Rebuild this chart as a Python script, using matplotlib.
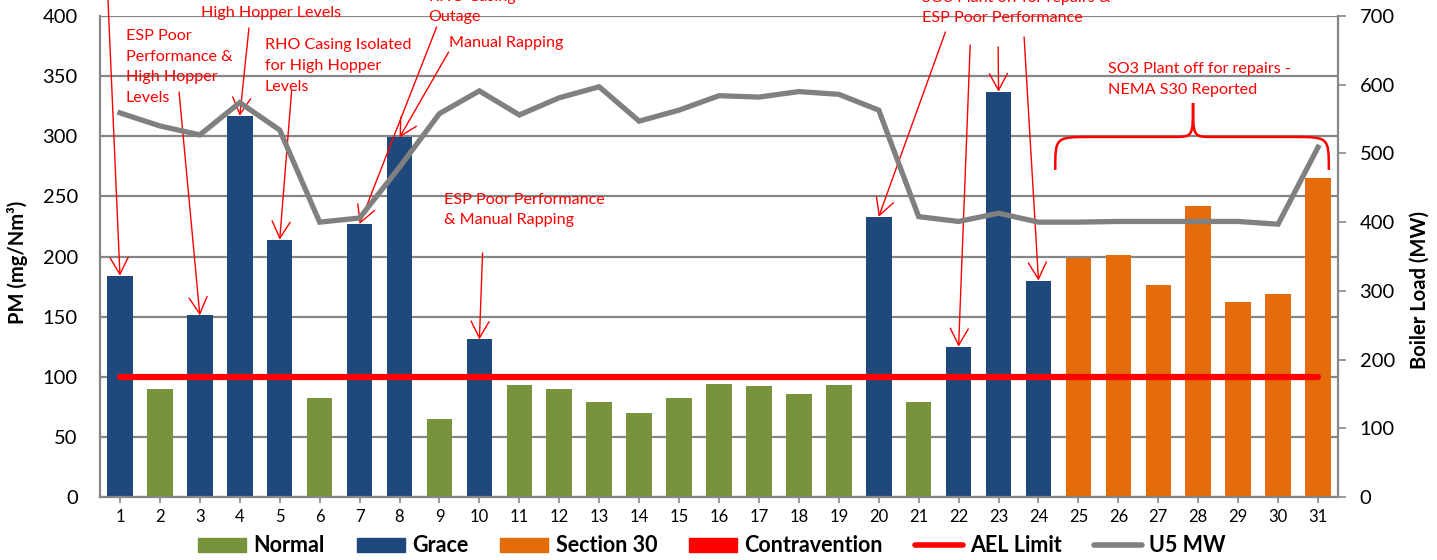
import matplotlib
matplotlib.use("Agg")
import matplotlib.pyplot as plt
from matplotlib.patches import Patch, PathPatch
from matplotlib.lines import Line2D
from matplotlib.path import Path

plt.rcParams['font.family'] = ['Lato', 'DejaVu Sans']

# daily PM results (mg/Nm3), compliance status and unit load (MW)
days = list(range(1, 32))
pm = [184, 90, 151, 317, 214, 82, 227, 299, 65, 131,
      93, 90, 79, 70, 82, 94, 92, 86, 93, 233,
      79, 125, 337, 180, 199, 201, 176, 242, 162, 169, 265]
status = (['Grace', 'Normal', 'Grace', 'Grace', 'Grace', 'Normal', 'Grace', 'Grace', 'Normal', 'Grace']
          + ['Normal'] * 9 + ['Grace', 'Normal', 'Grace', 'Grace', 'Grace']
          + ['Section 30'] * 7)
u5_mw = [559, 540, 527, 574, 534, 400, 406, 480, 558, 591,
         556, 581, 597, 547, 563, 584, 582, 590, 586, 563,
         408, 401, 413, 400, 400, 401, 401, 401, 401, 397, 509]
ael_limit = 100

colours = {'Normal': '#77933C', 'Grace': '#1F497D', 'Section 30': '#E46C0A',
           'Contravention': '#FF0000'}
grey = '#868686'
red = '#FF0000'

fig = plt.figure(figsize=(14.37, 5.6), dpi=100)
ax = fig.add_axes([100 / 1437, 63 / 560, 1238 / 1437, 481 / 560])

ax.bar(days, pm, width=0.64, color=[colours[s] for s in status], zorder=2)
ax.plot([days[0], days[-1]], [ael_limit, ael_limit], color=red, lw=4.5,
        solid_capstyle='round', zorder=3)

ax.set_xlim(0.5, 31.5)
ax.set_ylim(0, 400)
ax.set_yticks(range(0, 401, 50))
ax.set_xticks(days)
ax.yaxis.grid(True, color=grey, lw=1.6)
ax.set_axisbelow(True)
ax.tick_params(axis='y', length=0, pad=16, labelsize=14.5)
ax.tick_params(axis='x', length=4.5, color=grey, width=1.2, pad=4, labelsize=12)
ax.spines['top'].set_visible(False)
ax.spines['right'].set_visible(False)
for s in ('left', 'bottom'):
    ax.spines[s].set_color(grey)
    ax.spines[s].set_linewidth(1.6)

ax2 = ax.twinx()
ax2.plot(days, u5_mw, color='#808080', lw=3.8, solid_joinstyle='miter', zorder=4)
ax2.set_ylim(0, 700)
ax2.set_yticks(range(0, 701, 100))
ax2.tick_params(axis='y', length=5.5, color=grey, width=1.2, pad=10, labelsize=14.5)
for s in ('top', 'left', 'bottom'):
    ax2.spines[s].set_visible(False)
ax2.spines['right'].set_color(grey)
ax2.spines['right'].set_linewidth(1.6)

fig.text(18 / 1437, 1 - 262 / 560, 'PM (mg/Nm³)', rotation=90, ha='center', va='center',
         fontsize=14.5, fontweight='bold')
fig.text(1420 / 1437, 1 - 290 / 560, 'Boiler Load (MW)', rotation=90, ha='center', va='center',
         fontsize=14.5, fontweight='bold')

# notes and arrows
note = dict(color=red, fontsize=11.6, linespacing=1.6, va='center', zorder=6,
            annotation_clip=False)
arrow = dict(arrowstyle='->,head_length=1.2,head_width=0.65', color=red, lw=1,
             shrinkA=0, shrinkB=0, mutation_scale=10)


def point_to(day, tx, ty):
    ax.annotate('', xy=(day, pm[day - 1]), xytext=(tx, ty), arrowprops=arrow,
                annotation_clip=False, zorder=6)


point_to(1, 0.69, 421)
ax.annotate('ESP Poor\nPerformance &\nHigh Hopper\nLevels', xy=(1.15, 357.6), ha='left', **note)
point_to(3, 2.48, 336.8)
ax.annotate('Manual Rapping &\nHigh Hopper Levels', xy=(4.78, 410.8), ha='center',
            multialignment='center', **note)
point_to(4, 4.23, 390)
ax.annotate('RHO Casing Isolated\nfor High Hopper\nLevels', xy=(4.63, 358.4), ha='left', **note)
point_to(5, 5.30, 338.5)
ax.annotate('RHO Casing\nOutage', xy=(8.73, 407.5), ha='left', **note)
point_to(7, 8.93, 390.9)
ax.annotate('Manual Rapping', xy=(9.23, 377.5), ha='left', **note)
point_to(8, 9.23, 370)
ax.annotate('ESP Poor Performance\n& Manual Rapping', xy=(9.11, 238.7), ha='left', **note)
point_to(10, 10.08, 202.9)
ax.annotate('SO3 Plant off for repairs &\nESP Poor Performance', xy=(21.09, 406.7), ha='left', **note)
point_to(20, 21.67, 386.7)
point_to(22, 22.29, 375.9)
point_to(23, 22.99, 374.2)
point_to(24, 23.64, 382.5)
ax.annotate('SO3 Plant off for repairs -\nNEMA S30 Reported', xy=(25.74, 347.2), ha='left', **note)


def brace(x0, x1, xm, y_end, y_bar, y_tip, r=0.9, rt=0.5):
    verts = [(x0, y_end),
             (x0, y_bar), (x0, y_bar), (x0 + r, y_bar),
             (xm - rt, y_bar),
             (xm, y_bar), (xm, y_bar), (xm, y_tip),
             (xm, y_bar), (xm, y_bar), (xm + rt, y_bar),
             (x1 - r, y_bar),
             (x1, y_bar), (x1, y_bar), (x1, y_end)]
    codes = ([Path.MOVETO] + [Path.CURVE4] * 3 + [Path.LINETO] + [Path.CURVE4] * 6
             + [Path.LINETO] + [Path.CURVE4] * 3)
    ax.add_patch(PathPatch(Path(verts, codes), fill=False, edgecolor=red, lw=1.8,
                           zorder=6, clip_on=False))


brace(24.42, 31.27, 27.87, 272, 299.4, 327.6)

handles = [Patch(color=colours[k]) for k in ('Normal', 'Grace', 'Section 30', 'Contravention')]
handles += [Line2D([], [], color=red, lw=4, solid_capstyle='round'),
            Line2D([], [], color='#808080', lw=4, solid_capstyle='round')]
labels = ['Normal', 'Grace', 'Section 30', 'Contravention', 'AEL Limit', 'U5 MW']
fig.legend(handles, labels, loc='center', bbox_to_anchor=(712 / 1437, 14 / 560), ncol=6,
           frameon=False, prop={'size': 15.5, 'weight': 'bold'}, handlelength=2.23,
           handleheight=0.65, handletextpad=0.33, columnspacing=1.49,
           borderaxespad=0, borderpad=0)

fig.savefig('out.png', dpi=100)
